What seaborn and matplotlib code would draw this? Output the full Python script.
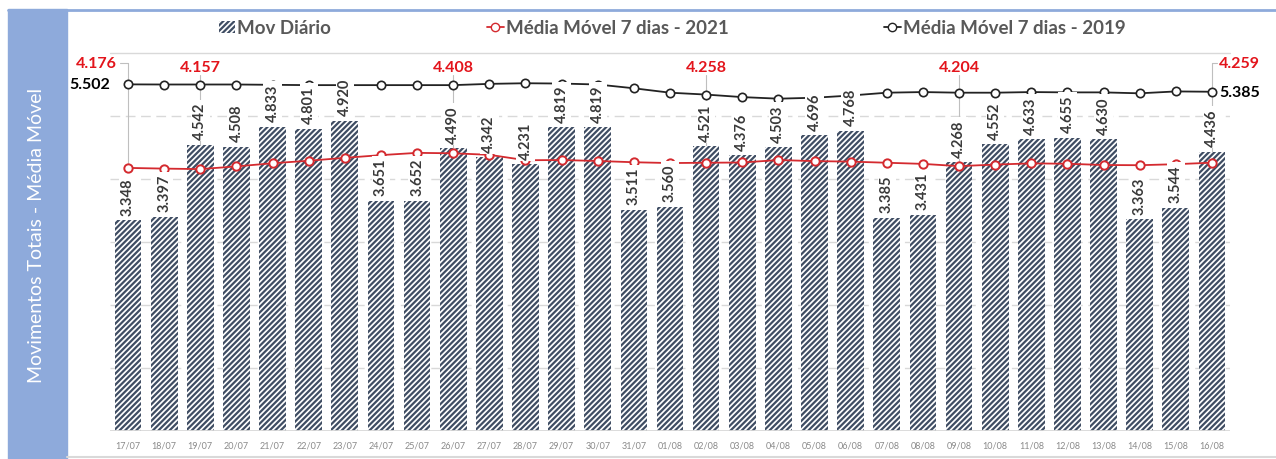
import numpy as np
import pandas as pd
import seaborn as sns
import matplotlib.pyplot as plt
from matplotlib.patches import Patch, Rectangle
from matplotlib.lines import Line2D

# data
dates = ["17/07", "18/07", "19/07", "20/07", "21/07", "22/07", "23/07", "24/07",
         "25/07", "26/07", "27/07", "28/07", "29/07", "30/07", "31/07", "01/08",
         "02/08", "03/08", "04/08", "05/08", "06/08", "07/08", "08/08", "09/08",
         "10/08", "11/08", "12/08", "13/08", "14/08", "15/08", "16/08"]
mov_diario = [3348, 3397, 4542, 4508, 4833, 4801, 4920, 3651, 3652, 4490, 4342,
              4231, 4819, 4819, 3511, 3560, 4521, 4376, 4503, 4696, 4768, 3385,
              3431, 4268, 4552, 4633, 4655, 4630, 3363, 3544, 4436]
mm_2021 = [4176, 4165, 4157, 4200, 4250, 4290, 4336, 4379, 4415, 4408, 4384,
           4298, 4301, 4286, 4266, 4253, 4258, 4262, 4301, 4284, 4276, 4258,
           4240, 4204, 4229, 4248, 4242, 4222, 4219, 4235, 4259]
mm_2019 = [5502, 5500, 5500, 5500, 5495, 5490, 5490, 5490, 5490, 5490, 5510,
           5520, 5515, 5500, 5440, 5370, 5340, 5300, 5275, 5290, 5325, 5370,
           5380, 5370, 5370, 5380, 5375, 5375, 5360, 5390, 5385]
red_label_idx = [0, 2, 9, 16, 23, 30]

BAR_C = "#3f4d63"
RED = "#d42a2f"
RED_TXT = "#e3141b"
BLK = "#222222"


def fmt(v):
    return f"{v:,}".replace(",", ".")


sns.set_style("white")
plt.rcParams["font.family"] = ["Lato", "DejaVu Sans"]
plt.rcParams["hatch.linewidth"] = 1.6

df = pd.DataFrame({"data": dates, "mov": mov_diario})
x = np.arange(len(dates))

fig = plt.figure(figsize=(12.76, 4.6), dpi=100)
ax = fig.add_axes([110 / 1276, 28 / 460, 1120 / 1276, 378 / 460])

sns.barplot(data=df, x="data", y="mov", ax=ax, color="white", width=0.74,
            edgecolor=BAR_C, linewidth=0, hatch="//////", zorder=2)

sns.lineplot(x=x, y=mm_2021, ax=ax, color=RED, lw=1.3, marker="o", ms=6,
             mfc="white", mec=RED, mew=1.4, zorder=3)
sns.lineplot(x=x, y=mm_2019, ax=ax, color=BLK, lw=1.3, marker="o", ms=6,
             mfc="white", mec=BLK, mew=1.2, zorder=3)

ax.set_xlim(-0.5, len(dates) - 0.5)
ax.set_ylim(0, 6000)
ax.set_yticks([])
for g in [1000, 2000, 3000, 4000, 5000]:
    ax.axhline(g, color="#d9d9d9", lw=1, ls=(0, (7, 4)), zorder=0)
ax.axhline(6000, color="#d9d9d9", lw=1, zorder=0, clip_on=False)
ax.axhline(0, color="#d9d9d9", lw=1.3, zorder=4)
sns.despine(ax=ax, left=True, bottom=True, top=True, right=True)
ax.set_xlabel("")
ax.set_ylabel("")
ax.tick_params(axis="x", length=0, pad=7, labelsize=6.5, labelcolor="#8a8a8a")

# bar labels
for i, v in enumerate(mov_diario):
    ax.annotate(fmt(v), xy=(i, v), xytext=(0, 4), textcoords="offset points",
                rotation=90, ha="center", va="bottom", fontsize=10.5,
                fontweight="bold", color="#3a3a3a", zorder=6,
                bbox=dict(boxstyle="square,pad=0.15", fc="white", ec="none"))

# red labels with leader lines
for i in red_label_idx:
    v = mm_2021[i]
    if i == 0:
        ty, dx, ha = 5840, -0.3, "right"
    elif i == len(dates) - 1:
        ty, dx, ha = 5840, 0.2, "left"
    else:
        ty, dx, ha = 5770, 0, "center"
    ax.plot([i, i], [v, ty - 120 if ha == "center" else ty], color="#bfbfbf",
            lw=0.8, zorder=1)
    if ha != "center":
        ax.plot([i, i + dx * 0.7], [ty, ty], color="#bfbfbf", lw=0.8, zorder=1)
    ax.text(i + dx, ty, fmt(v), ha=ha, va="center", fontsize=11.5,
            fontweight="bold", color=RED_TXT, zorder=7)

# black labels
ax.text(-0.5, mm_2019[0], fmt(mm_2019[0]), ha="right", va="center", fontsize=11.5,
        fontweight="bold", color="black", zorder=7)
ax.text(len(dates) - 1 + 0.2, mm_2019[-1], fmt(mm_2019[-1]), ha="left",
        va="center", fontsize=11.5, fontweight="bold", color="black", zorder=7)

# legend
handles = [
    Patch(facecolor="white", edgecolor=BAR_C, hatch="//////", lw=0),
    Line2D([], [], color=RED, lw=1.3, marker="o", ms=6, mfc="white", mec=RED),
    Line2D([], [], color=BLK, lw=1.3, marker="o", ms=6, mfc="white", mec=BLK),
]
labels = ["Mov Diário", "Média Móvel 7 dias - 2021", "Média Móvel 7 dias - 2019"]
leg = fig.legend(handles, labels, loc="center", ncol=3, frameon=False,
                 bbox_to_anchor=(672 / 1276, 1 - 29 / 460), columnspacing=8.3,
                 handlelength=0.9, handletextpad=0.1, handleheight=0.6,
                 prop={"weight": "bold", "size": 13.5})
for t in leg.get_texts():
    t.set_color("#595959")

# left band and frame lines
fig.add_artist(Rectangle((8 / 1276, 0), 59 / 1276, 1 - 10 / 460,
                         transform=fig.transFigure, color="#8eaadb", zorder=0))
fig.text(37 / 1276, 1 - 235 / 460, "Movimentos Totais - Média Móvel",
         rotation=90, ha="center", va="center", color="white", fontsize=14)
fig.add_artist(Line2D([8 / 1276, 1], [1 - 11 / 460, 1 - 11 / 460],
                      transform=fig.transFigure, color="#8eaadb", lw=2))
fig.add_artist(Line2D([67 / 1276, 1], [1 - 458 / 460, 1 - 458 / 460],
                      transform=fig.transFigure, color="#d9d9d9", lw=1.5))

fig.savefig("out.png", dpi=100)
